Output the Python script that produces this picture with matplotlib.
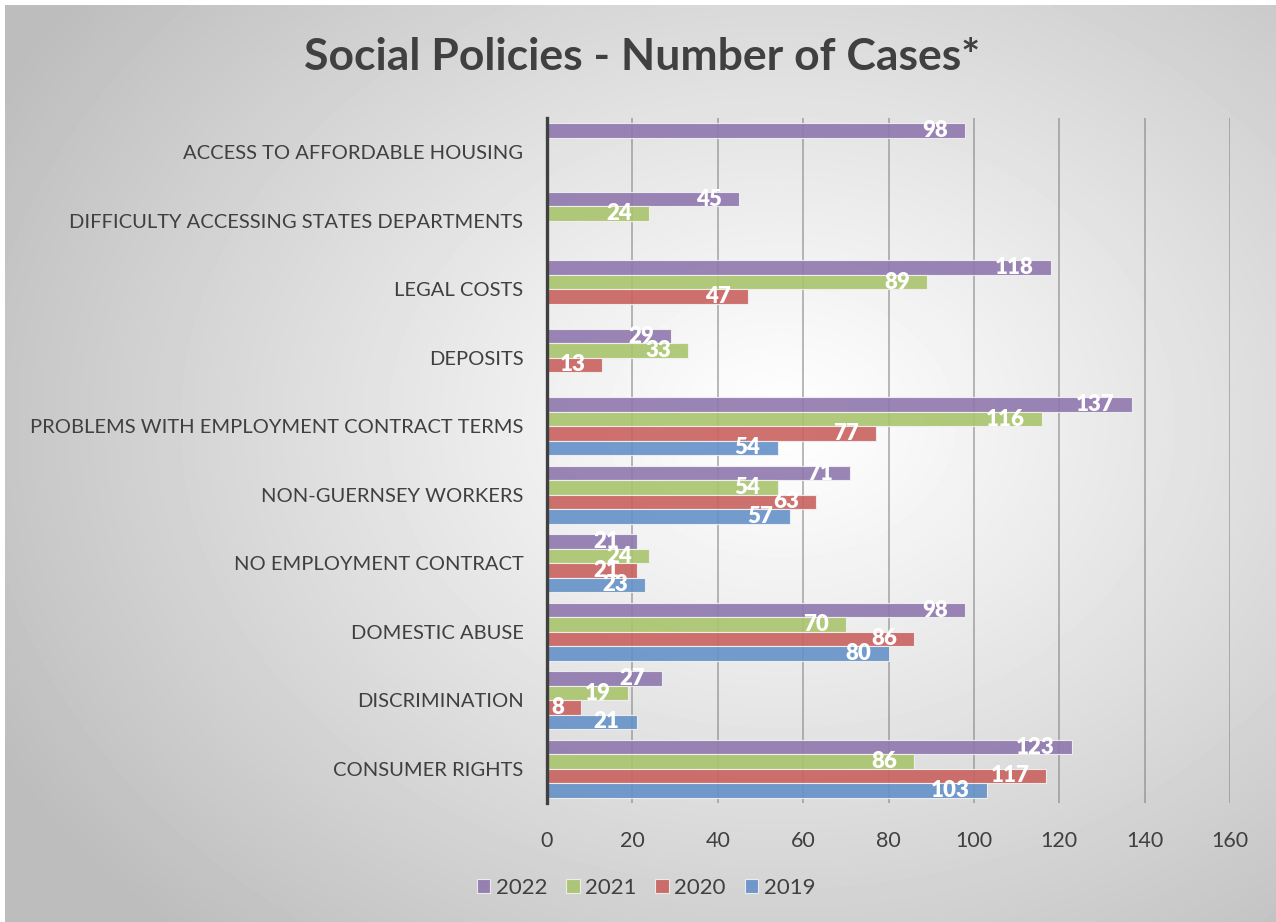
import numpy as np
import matplotlib
matplotlib.use("Agg")
import matplotlib.pyplot as plt

plt.rcParams['font.family'] = ['Lato', 'DejaVu Sans']

# Categories listed bottom to top
categories = ["CONSUMER RIGHTS", "DISCRIMINATION", "DOMESTIC ABUSE",
              "NO EMPLOYMENT CONTRACT", "NON-GUERNSEY WORKERS",
              "PROBLEMS WITH EMPLOYMENT CONTRACT TERMS", "DEPOSITS",
              "LEGAL COSTS", "DIFFICULTY ACCESSING STATES DEPARTMENTS",
              "ACCESS TO AFFORDABLE HOUSING"]
years = ["2022", "2021", "2020", "2019"]
cases_2022 = [123, 27, 98, 21, 71, 137, 29, 118, 45, 98]
cases_2021 = [86, 19, 70, 24, 54, 116, 33, 89, 24, None]
cases_2020 = [117, 8, 86, 21, 63, 77, 13, 47, None, None]
cases_2019 = [103, 21, 80, 23, 57, 54, None, None, None, None]
x_ticks = [0, 20, 40, 60, 80, 100, 120, 140, 160]

series = [cases_2022, cases_2021, cases_2020, cases_2019]
colors = ["#8f78ae", "#a9c46c", "#c9625f", "#6591c8"]

W, H = 1276, 922
fig = plt.figure(figsize=(W / 100, H / 100), dpi=100)

# background: radial grey gradient
bg = fig.add_axes([0, 0, 1, 1], zorder=-10)
gx, gy = np.meshgrid(np.linspace(0, W, 320), np.linspace(0, H, 240))
r = np.sqrt(((gx - 780) / 900) ** 2 + ((gy - 420) / 700) ** 2)
shade = 1.0 - 0.26 * np.clip(r, 0, 1) ** 1.1
bg.imshow(shade, cmap="gray", vmin=0, vmax=1, extent=[5, W, H, 6],
          aspect="auto", interpolation="bilinear")
bg.set_xlim(0, W)
bg.set_ylim(H, 0)
bg.axis("off")

ax = fig.add_axes([547 / W, 1 - 803 / H, 683 / W, 685 / H])
ax.patch.set_alpha(0)

h = 0.211
offsets = [1.5 * h, 0.5 * h, -0.5 * h, -1.5 * h]
y = np.arange(len(categories))
for vals, col, off, yr in zip(series, colors, offsets, years):
    v = np.array([np.nan if a is None else a for a in vals], dtype=float)
    bars = ax.barh(y + off, np.nan_to_num(v), height=h, color=col, alpha=0.9,
                   edgecolor="#f2f2f2", linewidth=0.8, label=yr, zorder=3)
    for b, val in zip(bars, v):
        if np.isnan(val):
            continue
        ax.annotate(f"{int(val)}", (val, b.get_y() + b.get_height() / 2),
                    xytext=(-17, 0), textcoords="offset pixels",
                    ha="right", va="center", color="white",
                    fontsize=16, fontweight="heavy", zorder=5)

ax.set_xlim(0, 160)
ax.set_ylim(-0.5, len(categories) - 0.5)
ax.set_xticks(x_ticks)
ax.set_yticks(y)
ax.set_yticklabels(categories)
ax.tick_params(axis="y", length=0, pad=17, labelsize=14.5, labelcolor="#404040")
ax.tick_params(axis="x", length=0, pad=20, labelsize=15.5, labelcolor="#404040")
ax.grid(axis="x", color="#808080", alpha=0.55, linewidth=1.4, zorder=0)
ax.set_axisbelow(True)
for s in ["top", "right", "bottom"]:
    ax.spines[s].set_visible(False)
ax.spines["left"].set_color("#404040")
ax.spines["left"].set_linewidth(2.4)
ax.spines["left"].set_zorder(6)

fig.text(642 / W, 1 - 57 / H, "Social Policies - Number of Cases*",
         ha="center", va="center", fontsize=32, fontweight="bold", color="#404040")

handles, labels = ax.get_legend_handles_labels()
fig.legend(handles, labels, loc="center", bbox_to_anchor=(646 / W, 1 - 888 / H),
           ncol=4, frameon=False, fontsize=16, handlelength=0.6, handleheight=0.6,
           handletextpad=0.25, columnspacing=0.85, labelcolor="#404040")

fig.savefig("out.png", dpi=100)
